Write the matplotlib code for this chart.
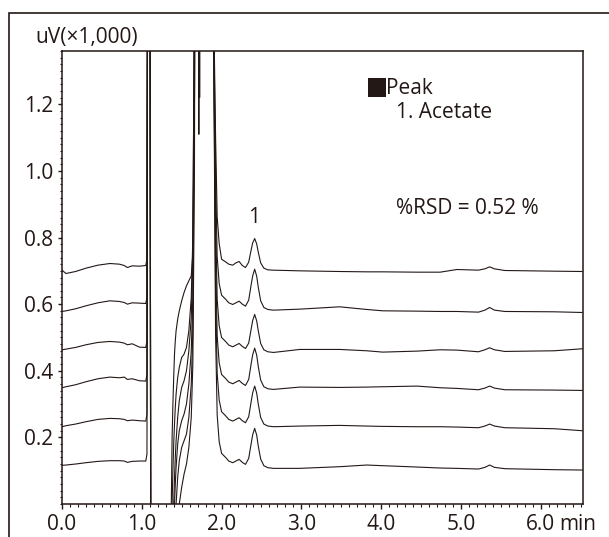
import matplotlib.pyplot as plt
from matplotlib.ticker import MultipleLocator, FixedLocator, FormatStrFormatter
from matplotlib.patches import Rectangle

plt.rcParams['font.family'] = ['Open Sans', 'DejaVu Sans']

ink = '#231815'
fs = 15

# retention time (min), shared by the six injections
t = [0.00, 0.05, 0.17, 0.30, 0.45, 0.60, 0.72, 0.78, 0.82, 0.88, 0.97, 1.05,
     1.065, 1.08, 1.10, 1.118, 1.35,
     1.37, 1.38, 1.39, 1.40, 1.41, 1.42, 1.43, 1.45, 1.47, 1.50, 1.53, 1.56, 1.59, 1.62, 1.64, 1.66, 1.68,
     1.70, 1.715, 1.725, 1.74, 1.895,
     1.925, 1.945, 1.97, 2.00, 2.05, 2.09, 2.14, 2.18, 2.22, 2.26, 2.30,
     2.34, 2.37, 2.39, 2.415, 2.44, 2.46, 2.49, 2.53, 2.58, 2.65,
     2.98, 3.48, 3.82, 4.02, 4.45, 4.74, 4.95, 5.22, 5.30, 5.36, 5.42, 5.55, 6.17, 6.52]

# signal (uV x 1,000); values outside 0..1.36 are off scale
run1 = [0.702, 0.692, 0.698, 0.708, 0.717, 0.722, 0.720, 0.716, 0.710, 0.715, 0.714, 0.716,
        0.735, 3.0, 3.0, -2.0, -2.0,
        0.0, 0.20, 0.30, 0.38, 0.45, 0.49, 0.52, 0.555, 0.58, 0.61, 0.635, 0.655, 0.67, 0.685, 0.75, 1.2, 3.0,
        3.0, 3.0, 3.0, 3.0, 1.6,
        1.10, 0.862, 0.782, 0.735, 0.727, 0.720, 0.717, 0.724, 0.728, 0.716, 0.710,
        0.726, 0.762, 0.784, 0.797, 0.781, 0.756, 0.724, 0.708, 0.703, 0.702,
        0.700, 0.698, 0.697, 0.697, 0.696, 0.696, 0.704, 0.702, 0.706, 0.712, 0.706, 0.701, 0.699, 0.698]
run2 = [0.578, 0.580, 0.586, 0.595, 0.604, 0.610, 0.608, 0.605, 0.600, 0.604, 0.603, 0.602,
        0.620, 3.0, 3.0, -2.0, -2.0,
        -0.3, 0.0, 0.10, 0.18, 0.24, 0.29, 0.33, 0.38, 0.41, 0.44, 0.45, 0.47, 0.52, 0.62, 0.80, 1.5, 3.0,
        3.0, 1.11, 3.0, 3.0, 1.6,
        0.982, 0.742, 0.662, 0.627, 0.615, 0.604, 0.599, 0.604, 0.609, 0.600, 0.594,
        0.612, 0.657, 0.685, 0.705, 0.684, 0.651, 0.610, 0.590, 0.584, 0.582,
        0.585, 0.592, 0.584, 0.580, 0.579, 0.578, 0.578, 0.576, 0.582, 0.590, 0.582, 0.578, 0.577, 0.575]
run3 = [0.463, 0.465, 0.470, 0.478, 0.485, 0.488, 0.486, 0.483, 0.478, 0.481, 0.471, 0.470,
        0.490, 3.0, 3.0, -2.0, -2.0,
        -0.5, -0.3, -0.1, 0.0, 0.08, 0.14, 0.19, 0.26, 0.31, 0.35, 0.37, 0.40, 0.46, 0.56, 0.75, 1.6, 3.0,
        3.0, 3.0, 1.22, 3.0, 1.6,
        0.855, 0.615, 0.535, 0.500, 0.488, 0.477, 0.472, 0.477, 0.482, 0.473, 0.467,
        0.483, 0.524, 0.551, 0.569, 0.550, 0.520, 0.482, 0.463, 0.457, 0.455,
        0.464, 0.464, 0.460, 0.456, 0.459, 0.463, 0.462, 0.457, 0.463, 0.469, 0.463, 0.458, 0.460, 0.466]
run4 = [0.349, 0.352, 0.358, 0.367, 0.376, 0.381, 0.379, 0.381, 0.374, 0.376, 0.370, 0.369,
        0.390, 3.0, 3.0, -2.0, -2.0,
        -0.5, -0.4, -0.3, -0.1, 0.0, 0.06, 0.11, 0.18, 0.22, 0.25, 0.27, 0.30, 0.36, 0.46, 0.62, 1.4, 3.0,
        3.0, 3.0, 3.0, 3.0, 1.6,
        0.744, 0.504, 0.424, 0.389, 0.377, 0.366, 0.361, 0.366, 0.371, 0.362, 0.356,
        0.374, 0.420, 0.448, 0.468, 0.447, 0.413, 0.372, 0.352, 0.346, 0.344,
        0.351, 0.350, 0.351, 0.352, 0.354, 0.349, 0.347, 0.343, 0.348, 0.354, 0.348, 0.343, 0.342, 0.341]
run5 = [0.232, 0.235, 0.240, 0.247, 0.254, 0.257, 0.256, 0.254, 0.250, 0.252, 0.250, 0.249,
        0.270, 3.0, 3.0, -2.0, -2.0,
        -0.6, -0.5, -0.4, -0.3, -0.2, -0.1, 0.0, 0.08, 0.13, 0.17, 0.19, 0.21, 0.26, 0.36, 0.52, 1.2, 3.0,
        3.0, 3.0, 3.0, 3.0, 1.6,
        0.632, 0.392, 0.312, 0.277, 0.265, 0.254, 0.249, 0.254, 0.259, 0.250, 0.244,
        0.262, 0.306, 0.334, 0.354, 0.333, 0.300, 0.260, 0.240, 0.234, 0.232,
        0.234, 0.236, 0.234, 0.233, 0.232, 0.232, 0.231, 0.229, 0.234, 0.240, 0.234, 0.229, 0.226, 0.220]
run6 = [0.116, 0.117, 0.120, 0.124, 0.128, 0.130, 0.130, 0.129, 0.125, 0.128, 0.129, 0.129,
        0.150, 3.0, 3.0, -2.0, -2.0,
        -0.7, -0.6, -0.5, -0.45, -0.4, -0.3, -0.2, -0.1, 0.0, 0.05, 0.09, 0.12, 0.17, 0.26, 0.42, 1.0, 3.0,
        3.0, 3.0, 3.0, 3.0, 1.6,
        0.507, 0.267, 0.187, 0.152, 0.140, 0.129, 0.124, 0.129, 0.134, 0.125, 0.119,
        0.137, 0.180, 0.208, 0.227, 0.207, 0.174, 0.135, 0.115, 0.109, 0.107,
        0.107, 0.112, 0.117, 0.115, 0.111, 0.108, 0.107, 0.105, 0.110, 0.117, 0.110, 0.106, 0.103, 0.102]
runs = [run1, run2, run3, run4, run5, run6]

y_ticks = [0.2, 0.4, 0.6, 0.8, 1.0, 1.2]

fig = plt.figure(figsize=(6.09, 5.37), dpi=100)
ax = fig.add_axes([62 / 609, 33 / 537, 521 / 609, 453 / 537])

for run in runs:
    ax.plot(t, run, color=ink, lw=0.8)

ax.set_xlim(0, 6.53)
ax.set_ylim(0, 1.36)
ax.xaxis.set_major_locator(MultipleLocator(1.0))
ax.xaxis.set_minor_locator(MultipleLocator(0.1))
ax.yaxis.set_major_locator(FixedLocator(y_ticks))
ax.yaxis.set_minor_locator(MultipleLocator(0.02))
ax.xaxis.set_major_formatter(FormatStrFormatter('%.1f'))
ax.yaxis.set_major_formatter(FormatStrFormatter('%.1f'))
ax.tick_params(axis='x', which='major', length=3.6, width=1.0, pad=3.5, labelsize=fs, colors=ink)
ax.tick_params(axis='x', which='minor', length=2.2, width=0.8, colors=ink)
ax.tick_params(axis='y', which='major', length=2.6, width=1.0, pad=4.0, labelsize=fs, colors=ink)
ax.tick_params(axis='y', which='minor', length=1.5, width=0.8, colors=ink)
for s in ax.spines.values():
    s.set_color(ink)
    s.set_linewidth(1.1)

# frame round the whole figure (open at right and bottom)
fig.add_artist(Rectangle((9 / 609, -0.5), 2, 1 - 13 / 537 + 0.5, transform=fig.transFigure,
                         fill=False, lw=1.2, ec=ink))

fig.text(35 / 609, 1 - 38 / 537, 'uV(×1,000)', fontsize=fs, color=ink, va='center', ha='left')
ax.annotate('min', xy=(6.0, 0), xycoords=('data', 'axes fraction'),
            xytext=(13.7, -7.1), textcoords='offset points', fontsize=fs, color=ink,
            ha='left', va='top')

# legend block
fig.add_artist(Rectangle((368 / 609, 1 - 96.5 / 537), 18 / 609, 18.5 / 537,
                         transform=fig.transFigure, fc=ink, ec='none'))
fig.text(386 / 609, 1 - 89 / 537, 'Peak', fontsize=fs, color=ink, va='center', ha='left')
fig.text(396 / 609, 1 - 113 / 537, '1. Acetate', fontsize=fs, color=ink, va='center', ha='left')
fig.text(396 / 609, 1 - 208 / 537, '%RSD = 0.52 %', fontsize=fs, color=ink, va='center', ha='left')
ax.text(2.41, 0.86, '1', fontsize=fs, color=ink, ha='center', va='center')

fig.savefig('out.png', dpi=100)
